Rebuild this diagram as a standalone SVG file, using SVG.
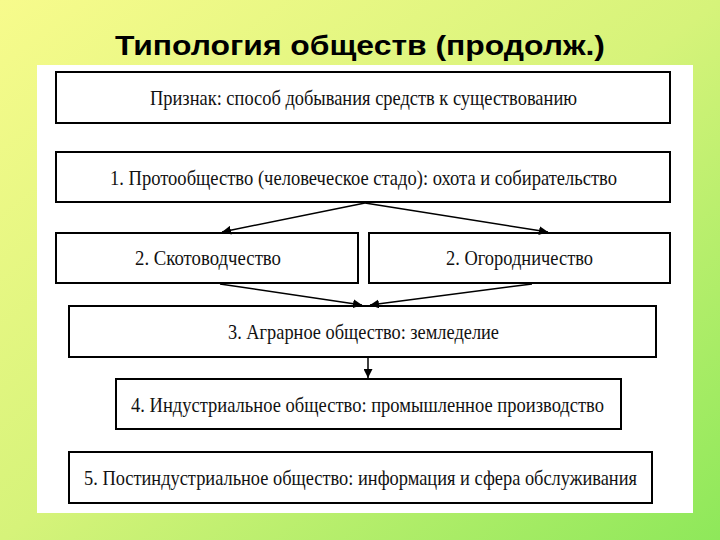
<svg xmlns="http://www.w3.org/2000/svg" width="720" height="540" viewBox="0 0 720 540">
<defs>
<linearGradient id="bg" x1="0" y1="0" x2="1" y2="1">
<stop offset="0" stop-color="#f7fb8c"/><stop offset="0.5" stop-color="#d6f37a"/><stop offset="1" stop-color="#8ee85a"/>
</linearGradient>
<marker id="ah" viewBox="0 0 10 10" refX="10" refY="5" markerWidth="9" markerHeight="9" orient="auto" markerUnits="userSpaceOnUse"><path d="M0,0 L10,5 L0,10 z" fill="#000"/></marker>
<style>
.b{fill:#fff;stroke:#000;stroke-width:2}
.t{font-family:"Liberation Serif",serif;font-size:22px;fill:#111}
.c{stroke:#000;stroke-width:1.5;fill:none;marker-end:url(#ah)}
</style>
</defs>
<rect width="720" height="540" fill="url(#bg)"/>
<text x="115" y="55" font-family="Liberation Sans,Arial,sans-serif" font-weight="bold" font-size="27" fill="#000" textLength="490" lengthAdjust="spacingAndGlyphs">Типология обществ (продолж.)</text>
<rect x="37" y="65" width="656" height="448" fill="#fff"/>
<g id="n0"><rect class="b" x="56" y="72" width="614" height="51"/><text class="t" x="150" y="105" textLength="427" lengthAdjust="spacingAndGlyphs">Признак: способ добывания средств к существованию</text></g>
<g id="n1"><rect class="b" x="56" y="152" width="614" height="50"/><text class="t" x="110" y="185" textLength="507" lengthAdjust="spacingAndGlyphs">1. Протообщество (человеческое стадо): охота и собирательство</text></g>
<g id="n2a"><rect class="b" x="56" y="233" width="302" height="50"/><text class="t" x="135" y="265" textLength="146" lengthAdjust="spacingAndGlyphs">2. Скотоводчество</text></g>
<g id="n2b"><rect class="b" x="369" y="233" width="301" height="50"/><text class="t" x="446" y="265" textLength="147" lengthAdjust="spacingAndGlyphs">2. Огородничество</text></g>
<g id="n3"><rect class="b" x="69" y="306" width="587" height="51"/><text class="t" x="228" y="339" textLength="271" lengthAdjust="spacingAndGlyphs">3. Аграрное общество: земледелие</text></g>
<g id="n4"><rect class="b" x="116" y="379" width="505" height="50"/><text class="t" x="131" y="412" textLength="473" lengthAdjust="spacingAndGlyphs">4. Индустриальное общество: промышленное производство</text></g>
<g id="n5"><rect class="b" x="69" y="452" width="583" height="51"/><text class="t" x="84" y="485" textLength="553" lengthAdjust="spacingAndGlyphs">5. Постиндустриальное общество: информация и сфера обслуживания</text></g>
<g id="connectors">
<line class="c" x1="365" y1="203" x2="222" y2="232"/>
<line class="c" x1="365" y1="203" x2="548" y2="232"/>
<line class="c" x1="220" y1="284" x2="362" y2="305"/>
<line class="c" x1="532" y1="284" x2="370" y2="305"/>
<line class="c" x1="368" y1="358" x2="368" y2="378"/>
</g>
</svg>
